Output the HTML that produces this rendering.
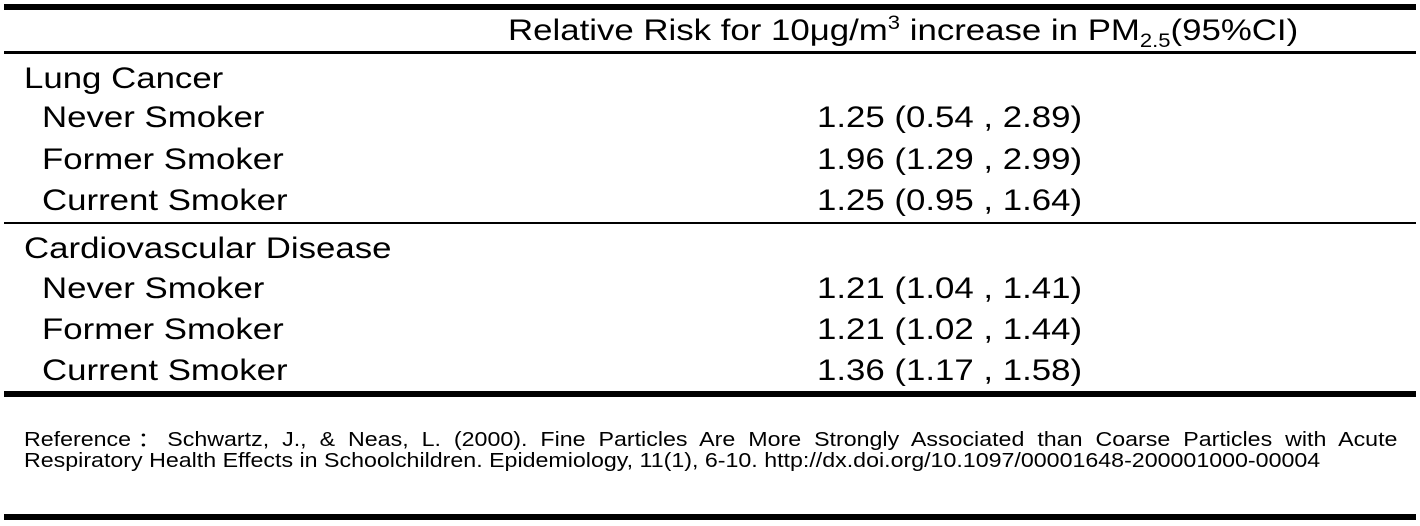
<!DOCTYPE html>
<html><head><meta charset="utf-8"><style>
body{margin:0;width:1420px;height:526px;background:#fff;position:relative;overflow:hidden;font-family:"Liberation Sans",Arial,sans-serif;color:#000}
.l{position:absolute;left:4px;width:1412px;background:#000}
.t,.v{position:absolute;font-size:30px;line-height:34px;white-space:nowrap;transform:scaleX(1.16);transform-origin:0 0}
.v{left:817px}
.ref{position:absolute;left:24px;top:430px;width:1184px;font-size:20px;line-height:21px;transform:scaleX(1.16);transform-origin:0 0}
.j{text-align:justify;text-align-last:justify;white-space:nowrap}
</style></head><body>
<div class="l" style="top:4px;height:6px"></div>
<div class="l" style="top:51px;height:3px"></div>
<div class="l" style="top:222px;height:2px"></div>
<div class="l" style="top:391px;height:6px"></div>
<div class="l" style="top:514px;height:6px"></div>
<div class="t" style="left:508px;top:14px">Relative Risk for 10μg/m<sup style="font-size:19px;line-height:0">3</sup> increase in PM<sub style="font-size:19px;line-height:0">2.5</sub>(95%CI)</div>
<div class="t" style="left:24px;top:62px">Lung Cancer</div>
<div class="t" style="left:42px;top:101px">Never Smoker</div>
<div class="t" style="left:42px;top:143px">Former Smoker</div>
<div class="t" style="left:42px;top:184px">Current Smoker</div>
<div class="v" style="top:101px">1.25 (0.54 , 2.89)</div>
<div class="v" style="top:143px">1.96 (1.29 , 2.99)</div>
<div class="v" style="top:184px">1.25 (0.95 , 1.64)</div>
<div class="t" style="left:24px;top:232px">Cardiovascular Disease</div>
<div class="t" style="left:42px;top:272px">Never Smoker</div>
<div class="t" style="left:42px;top:313px">Former Smoker</div>
<div class="t" style="left:42px;top:354px">Current Smoker</div>
<div class="v" style="top:272px">1.21 (1.04 , 1.41)</div>
<div class="v" style="top:313px">1.21 (1.02 , 1.44)</div>
<div class="v" style="top:354px">1.36 (1.17 , 1.58)</div>
<div class="ref"><div class="j">Reference：Schwartz, J., &amp; Neas, L. (2000). Fine Particles Are More Strongly Associated than Coarse Particles with Acute</div><div style="white-space:nowrap">Respiratory Health Effects in Schoolchildren. Epidemiology, 11(1), 6-10. http://dx.doi.org/10.1097/00001648-200001000-00004</div></div>
</body></html>
